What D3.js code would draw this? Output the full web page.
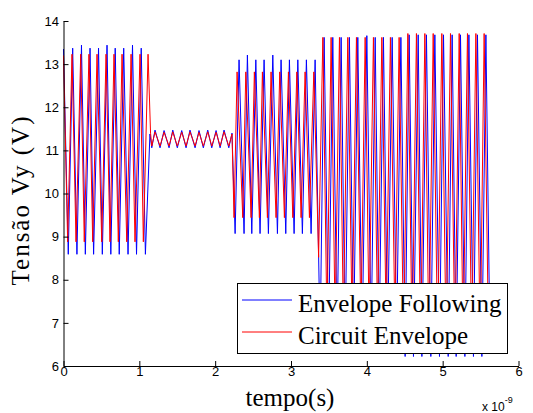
<!DOCTYPE html>
<html><head><meta charset="utf-8">
<script src="https://cdn.jsdelivr.net/npm/d3@7"></script>
<style>body{margin:0;background:#fff} svg{display:block}</style>
</head><body><svg id="c" width="533" height="413"></svg>
<script>
// ---- data (time in ns, voltage in V) ----
const xTicks = [0, 1, 2, 3, 4, 5, 6];
const yTicks = [6, 7, 8, 9, 10, 11, 12, 13, 14];
const seriesNames = ["Envelope Following", "Circuit Envelope"];

const blueTime = [
  0.000, 0.063, 0.121, 0.177, 0.237, 0.288, 0.350, 0.397, 0.462, 0.512, 0.574, 0.624, 0.682, 0.735, 0.794, 0.851, 0.910, 0.963, 1.025, 1.080,
  1.140, 1.164, 1.207, 1.273, 1.326, 1.392, 1.441, 1.501, 1.559, 1.616, 1.668, 1.735, 1.787, 1.844, 1.902, 1.955, 2.012, 2.065, 2.117, 2.180, 2.222,
  2.263, 2.315, 2.381, 2.425, 2.483, 2.536, 2.592, 2.645, 2.702, 2.760, 2.821, 2.869, 2.931, 2.979, 3.041, 3.090, 3.150, 3.203, 3.265, 3.318,
  3.384, 3.437, 3.496, 3.551, 3.608, 3.661, 3.714, 3.770, 3.826, 3.881, 3.938, 4.000, 4.057, 4.110, 4.162, 4.219, 4.274, 4.334, 4.393, 4.449,
  4.505, 4.558, 4.615, 4.677, 4.726, 4.786, 4.844, 4.897, 4.958, 5.011, 5.073, 5.125, 5.178, 5.235, 5.293, 5.346, 5.406, 5.459, 5.517, 5.570, 5.620
];
const blueVolt = [
  13.35, 8.59, 13.37, 8.59, 13.44, 8.59, 13.37, 8.59, 13.37, 8.59, 13.44, 8.59, 13.37, 8.59, 13.37, 8.59, 13.44, 8.59, 13.37, 8.59,
  11.38, 11.06, 11.47, 11.06, 11.46, 11.06, 11.47, 11.06, 11.46, 11.06, 11.47, 11.06, 11.46, 11.06, 11.47, 11.06, 11.46, 11.06, 11.47, 11.06, 11.40,
  9.07, 13.10, 9.07, 13.21, 9.07, 13.10, 9.07, 13.10, 9.07, 13.21, 9.07, 13.10, 9.07, 13.10, 9.07, 13.10, 9.07, 13.10, 9.07, 13.10,
  6.60, 13.62, 6.60, 13.62, 6.60, 13.62, 6.60, 13.62, 6.60, 13.62, 6.60, 13.66, 6.60, 13.62, 6.60, 13.62, 6.60, 13.62, 6.60, 13.62,
  6.22, 13.68, 6.22, 13.68, 6.22, 13.68, 6.22, 13.68, 6.22, 13.68, 6.22, 13.68, 6.22, 13.68, 6.22, 13.68, 6.22, 13.68, 6.22, 13.68, 7.00
];

const redTime = [
  0.000, 0.055, 0.112, 0.165, 0.227, 0.274, 0.336, 0.385, 0.442, 0.504, 0.561, 0.613, 0.666, 0.723, 0.772, 0.834, 0.891, 0.943, 1.009, 1.053, 1.115,
  1.148, 1.164, 1.207, 1.273, 1.326, 1.392, 1.441, 1.501, 1.559, 1.616, 1.668, 1.735, 1.787, 1.844, 1.902, 1.955, 2.012, 2.065, 2.117, 2.180, 2.222,
  2.249, 2.289, 2.364, 2.404, 2.474, 2.517, 2.583, 2.623, 2.689, 2.737, 2.803, 2.852, 2.913, 2.966, 3.024, 3.077, 3.133, 3.186, 3.243, 3.301,
  3.364, 3.420, 3.474, 3.529, 3.582, 3.639, 3.691, 3.749, 3.806, 3.863, 3.922, 3.978, 4.030, 4.087, 4.142, 4.198, 4.255, 4.311, 4.371, 4.426,
  4.485, 4.541, 4.598, 4.654, 4.710, 4.765, 4.819, 4.875, 4.934, 4.989, 5.046, 5.103, 5.162, 5.218, 5.270, 5.327, 5.383, 5.438, 5.495, 5.547, 5.600
];
const redVolt = [
  13.20, 8.88, 13.23, 8.88, 13.23, 8.88, 13.23, 8.88, 13.23, 8.88, 13.23, 8.88, 13.23, 8.88, 13.23, 8.88, 13.23, 8.88, 13.23, 8.88, 13.23,
  11.40, 11.10, 11.43, 11.10, 11.42, 11.10, 11.43, 11.10, 11.42, 11.10, 11.43, 11.10, 11.42, 11.10, 11.43, 11.10, 11.42, 11.10, 11.43, 11.10, 11.38,
  9.44, 12.82, 9.44, 12.82, 9.44, 12.82, 9.44, 12.82, 9.44, 12.82, 9.44, 12.82, 9.44, 12.82, 9.44, 12.82, 9.44, 12.82, 9.44, 12.82,
  8.52, 13.62, 7.00, 13.62, 7.00, 13.62, 7.00, 13.62, 7.00, 13.62, 7.00, 13.62, 7.00, 13.62, 7.00, 13.62, 7.00, 13.62, 7.00, 13.62,
  6.45, 13.71, 6.45, 13.71, 6.45, 13.71, 6.45, 13.71, 6.45, 13.71, 6.45, 13.71, 6.45, 13.71, 6.45, 13.71, 6.45, 13.71, 6.45, 13.71, 7.20
];

// ---- drawing ----
const svg = d3.select("#c");
const x = d3.scaleLinear().domain([0, 6]).range([63.5, 518.5]);
const y = d3.scaleLinear().domain([6, 14]).range([366, 21]);
const line = d3.line().x(d => x(d[0])).y(d => y(d[1]));

const plot = svg.append("g");
plot.append("path").datum(d3.zip(blueTime, blueVolt)).attr("d", line)
  .attr("fill", "none").attr("stroke", "#0000ff").attr("stroke-width", 1);
plot.append("path").datum(d3.zip(redTime, redVolt)).attr("d", line)
  .attr("fill", "none").attr("stroke", "#ff0000").attr("stroke-width", 1);

const tickFont = "'Liberation Sans', Arial, Helvetica, sans-serif";
const gx = svg.append("g").attr("transform", "translate(0,366)")
  .call(d3.axisBottom(x).tickValues(xTicks).tickFormat(d3.format("d")).tickSizeInner(-5).tickSizeOuter(0).tickPadding(1));
const gy = svg.append("g").attr("transform", "translate(63.5,0)")
  .call(d3.axisLeft(y).tickValues(yTicks).tickFormat(d3.format("d")).tickSizeInner(-5).tickSizeOuter(0).tickPadding(4.5));
[gx, gy].forEach(g => {
  g.selectAll("path.domain").attr("stroke", "#000").attr("stroke-width", 1);
  g.selectAll(".tick line").attr("stroke", "#000").attr("stroke-width", 1);
  g.selectAll(".tick text").attr("fill", "#000").style("font-family", tickFont).style("font-size", "13px");
});

const serif = "'Liberation Serif', 'Times New Roman', Times, serif";
svg.append("text").attr("x", 290).attr("y", 406).attr("text-anchor", "middle")
  .style("font-family", serif).style("font-size", "25px").text("tempo(s)");
svg.append("text").attr("transform", "translate(29,200) rotate(-90)").attr("text-anchor", "middle")
  .style("font-family", serif).style("font-size", "25px").style("letter-spacing", "2px").text("Tensão Vy (V)");
const ex = svg.append("text").attr("x", 482).attr("y", 411)
  .style("font-family", tickFont).style("font-size", "12px");
ex.append("tspan").text("x 10");
ex.append("tspan").attr("dy", -8).style("font-size", "9px").text("-9");

// legend
const lg = svg.append("g");
lg.append("rect").attr("x", 237.5).attr("y", 283.5).attr("width", 270).attr("height", 70)
  .attr("fill", "#fff").attr("stroke", "#000").attr("stroke-width", 1);
const legColors = ["#0000ff", "#ff0000"];
seriesNames.forEach((n, i) => {
  const yy = 300 + i * 32;
  lg.append("line").attr("x1", 242).attr("x2", 292).attr("y1", yy).attr("y2", yy)
    .attr("stroke", legColors[i]).attr("stroke-width", 1);
  lg.append("text").attr("x", 298).attr("y", yy + 11.5)
    .style("font-family", serif).style("font-size", "25px").text(n);
});
</script></body></html>
